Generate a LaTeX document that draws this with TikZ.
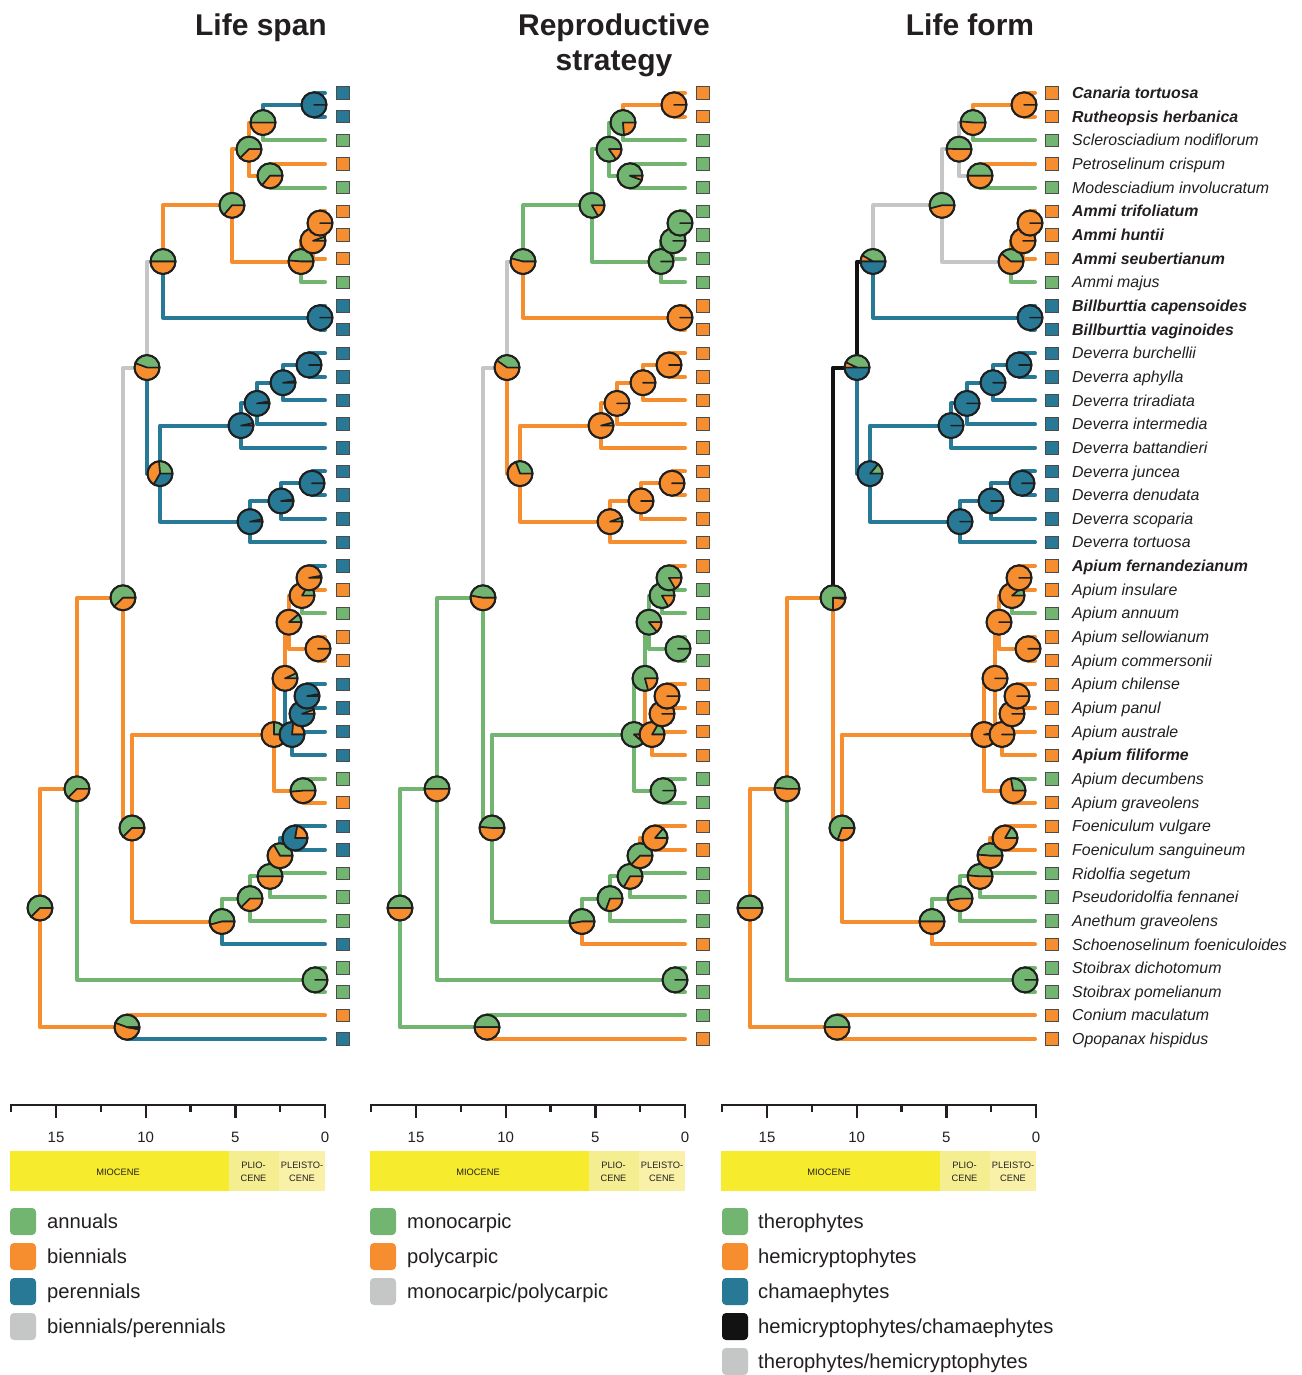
\documentclass[tikz,border=0pt]{standalone}
\usepackage{fontspec}
\setmainfont{Liberation Sans}
\definecolor{cG}{HTML}{71B571}
\definecolor{cO}{HTML}{F68D2E}
\definecolor{cB}{HTML}{277996}
\definecolor{cY}{HTML}{C5C6C6}
\definecolor{cK}{HTML}{121212}
\definecolor{pe}{HTML}{1F1F1F}
\definecolor{txt}{HTML}{231F20}
\definecolor{mio}{HTML}{F6EB2C}
\definecolor{plio}{HTML}{F4EE90}
\definecolor{pleis}{HTML}{FAF1A8}
\newcommand{\pieR}{12.5}
\newcommand{\drawpie}[4]{%
  \begin{scope}[shift={(#1)},yscale=-1]
    \pgfmathsetmacro{\pieA}{#2}%
    \pgfmathsetmacro{\pieB}{#2+#3}%
    \ifdim #2pt>0pt
      \filldraw[slice,fill=cG] (0,0) -- (0:\pieR) arc[start angle=0,end angle=\pieA,radius=\pieR] -- cycle;
    \fi
    \ifdim #3pt>0pt
      \filldraw[slice,fill=cO] (0,0) -- (\pieA:\pieR) arc[start angle=\pieA,end angle=\pieB,radius=\pieR] -- cycle;
    \fi
    \ifdim #4pt>0pt
      \filldraw[slice,fill=cB] (0,0) -- (\pieB:\pieR) arc[start angle=\pieB,end angle=360,radius=\pieR] -- cycle;
    \fi
    \draw[pierim] (0,0) circle[radius=\pieR];
  \end{scope}}
\begin{document}
\begin{tikzpicture}[x=1pt,y=-1pt,
  br/.style={line width=4, line cap=round, line join=round},
  slice/.style={draw=pe, line width=1.6, line join=round},
  pierim/.style={draw=pe, line width=2},
  tipsq/.style={draw=black!70, line width=0.8, minimum size=12.5, inner sep=0, outer sep=0},
  splab/.style={anchor=base west, inner sep=0, text=txt, font=\fontsize{15.9}{18}\selectfont\itshape},
  title/.style={anchor=base, inner sep=0, text=txt, font=\fontsize{30}{36}\selectfont\bfseries, align=center},
  axisline/.style={line width=2.3, draw=txt},
  axnum/.style={anchor=base, inner sep=0, text=txt, font=\fontsize{15}{17}\selectfont},
  epoch/.style={inner sep=0, text=txt, align=center, font=\fontsize{9.3}{12.5}\selectfont},
  legsq/.style={rounded corners=4, minimum width=26, minimum height=27, inner sep=0},
  legtxt/.style={anchor=base west, inner sep=0, text=txt, font=\fontsize{20.2}{22}\selectfont}]
\fill[white] (0,0) rectangle (1301,1375);
\useasboundingbox (0,0) rectangle (1301,1375);

% ---------- coordinates of the three trees ----------
\foreach \pp/\dx in {1/0,2/360,3/710}{
  \foreach \n/\nx/\ny in {root/40/908.0, A/77/788.83, Cn/127/1027.18, St/315/979.88, B/123/597.78,
     C/147/367.56, D/132/828.0, E/163/261.51, F/160/473.62, G/232/205.34, Bb/320/317.68,
     H/249/149.17, K/301/261.51, I/263/122.56, J/270/175.78, Ca/314/104.83, L/313/240.81,
     M/320/223.08, N/241/425.58, O/250/521.66, P/257/403.41, Q/283/382.71, R/309/364.98,
     S/281/500.96, T/312/483.23, U/274/734.51, V/222/921.49, h/285/678.34, i/303/790.68,
     d/289/622.17, g/292/734.51, b/302/595.56, c/318/648.78, a/309/577.83, f/302/713.81,
     e/307/696.08, W/250/898.58, X/270/876.41, Y/280/855.71, Z/295/837.98}{
    \coordinate (p\pp-\n) at ({\nx+\dx},\ny);
  }
  \foreach \i in {1,...,41}{
    \coordinate (p\pp-t\i) at ({325+\dx},{93+(\i-1)*23.65});
  }
}

% ---------- branches ----------
\foreach \ea/\eb/\ca/\cb/\cc in {
 root/A/O/G/O, root/Cn/O/G/O, A/B/O/G/O, A/St/G/G/G, Cn/t40/O/G/O, Cn/t41/B/O/O,
 St/t38/G/G/G, St/t39/G/G/G, B/C/Y/Y/K, B/D/O/G/O, C/E/Y/Y/K, C/F/B/O/B,
 E/G/O/G/Y, E/Bb/B/O/B, G/H/O/G/Y, G/K/O/G/Y, H/I/O/G/Y, H/J/O/G/Y,
 I/Ca/B/O/O, I/t3/G/G/G, Ca/t1/B/O/O, Ca/t2/B/O/O, J/t4/O/G/O, J/t5/G/G/G,
 K/L/O/G/O, K/t9/G/G/G, L/M/O/G/O, L/t8/O/G/O, M/t6/O/G/O, M/t7/O/G/O,
 Bb/t10/B/O/B, Bb/t11/B/O/B, F/N/B/O/B, F/O/B/O/B, N/P/B/O/B, N/t16/B/O/B,
 P/Q/B/O/B, P/t15/B/O/B, Q/R/B/O/B, Q/t14/B/O/B, R/t12/B/O/B, R/t13/B/O/B,
 O/S/B/O/B, O/t20/B/O/B, S/T/B/O/B, S/t19/B/O/B, T/t17/B/O/B, T/t18/B/O/B,
 D/U/O/G/O, D/V/O/G/O, U/h/O/G/O, U/i/O/G/O, h/d/O/G/O, h/g/B/O/O,
 d/b/O/G/O, d/c/O/G/O, b/a/O/G/O, b/t23/G/G/G, a/t21/B/O/O, a/t22/O/G/O,
 c/t24/O/G/O, c/t25/O/G/O, g/f/B/O/O, g/t29/B/O/O, f/e/B/O/O, f/t28/B/O/O,
 e/t26/B/O/O, e/t27/B/O/O, i/t30/G/G/G, i/t31/O/G/O, V/W/G/G/G, V/t37/B/O/O,
 W/X/G/G/G, W/t36/G/G/G, X/Y/G/G/G, X/t35/G/G/G, Y/Z/B/O/O, Y/t34/G/G/G,
 Z/t32/B/O/O, Z/t33/B/O/O}{
  \draw[br, draw=c\ca] (p1-\ea) |- (p1-\eb);
  \draw[br, draw=c\cb] (p2-\ea) |- (p2-\eb);
  \draw[br, draw=c\cc] (p3-\ea) |- (p3-\eb);
}

% ---------- pies ----------
\foreach \n/\vg/\vo/\vb in {root/225/135/0, A/225/135/0, Cn/160/190/10, St/360/0/0, B/225/135/0,
  C/160/200/0, D/225/135/0, E/180/180/0, F/95/145/120, G/230/130/0, Bb/0/0/360, H/225/135/0,
  K/175/185/0, I/180/180/0, J/230/130/0, Ca/0/0/360, L/20/340/0, M/0/360/0, N/0/12/348,
  O/0/12/348, P/0/10/350, Q/0/8/352, R/0/0/360, S/0/8/352, T/0/0/360, U/90/270/0,
  V/195/165/0, h/25/335/0, i/185/175/0, d/40/320/0, g/0/85/275, b/60/300/0, c/0/360/0,
  a/10/350/0, f/0/20/340, e/0/10/350, W/225/135/0, X/180/180/0, Y/120/240/0, Z/0/80/280}{
  \drawpie{p1-\n}{\vg}{\vo}{\vb}
}
\foreach \n/\vg/\vo/\vb in {root/180/180/0, A/180/180/0, Cn/180/180/0, St/360/0/0, B/170/190/0,
  C/145/215/0, D/175/185/0, E/165/195/0, F/110/250/0, G/300/60/0, Bb/0/360/0, H/305/55/0,
  K/360/0/0, I/275/85/0, J/340/20/0, Ca/0/360/0, L/360/0/0, M/360/0/0, N/15/345/0,
  O/20/340/0, P/0/360/0, Q/0/360/0, R/0/360/0, S/0/360/0, T/0/360/0, U/320/40/0,
  V/190/170/0, h/285/75/0, i/360/0/0, d/310/50/0, g/60/300/0, b/300/60/0, c/360/0/0,
  a/300/60/0, f/0/360/0, e/0/360/0, W/250/110/0, X/240/120/0, Y/225/135/0, Z/50/310/0}{
  \drawpie{p2-\n}{\vg}{\vo}{\vb}
}
\foreach \n/\vg/\vo/\vb in {root/180/180/0, A/175/185/0, Cn/180/180/0, St/360/0/0, B/270/85/5,
  C/155/25/180, D/250/110/0, E/150/30/180, F/50/0/310, G/195/165/0, Bb/0/0/360, H/178/182/0,
  K/140/220/0, I/175/185/0, J/180/180/0, Ca/0/360/0, L/0/360/0, M/0/360/0, N/0/0/360,
  O/0/0/360, P/0/0/360, Q/0/0/360, R/0/0/360, S/0/0/360, T/0/0/360, U/10/350/0,
  V/180/180/0, h/0/360/0, i/100/260/0, d/0/360/0, g/0/360/0, b/40/320/0, c/0/360/0,
  a/0/360/0, f/0/360/0, e/0/360/0, W/190/170/0, X/175/185/0, Y/175/185/0, Z/60/300/0}{
  \drawpie{p3-\n}{\vg}{\vo}{\vb}
}

% ---------- tip squares ----------
\foreach \i/\ca/\cb/\cc in {1/B/O/O, 2/B/O/O, 3/G/G/G, 4/O/G/O, 5/G/G/G, 6/O/G/O, 7/O/G/O,
  8/O/G/O, 9/G/G/G, 10/B/O/B, 11/B/O/B, 12/B/O/B, 13/B/O/B, 14/B/O/B, 15/B/O/B, 16/B/O/B,
  17/B/O/B, 18/B/O/B, 19/B/O/B, 20/B/O/B, 21/B/O/O, 22/O/G/O, 23/G/G/G, 24/O/G/O, 25/O/G/O,
  26/B/O/O, 27/B/O/O, 28/B/O/O, 29/B/O/O, 30/G/G/G, 31/O/G/O, 32/B/O/O, 33/B/O/O, 34/G/G/G,
  35/G/G/G, 36/G/G/G, 37/B/O/O, 38/G/G/G, 39/G/G/G, 40/O/G/O, 41/B/O/O}{
  \pgfmathsetmacro{\ty}{93+(\i-1)*23.65}
  \node[tipsq, fill=c\ca] (sqa\i) at (343,\ty) {};
  \node[tipsq, fill=c\cb] (sqb\i) at (703,\ty) {};
  \node[tipsq, fill=c\cc] (sqc\i) at (1052,\ty) {};
}

% ---------- species labels ----------
\foreach \i/\txt in {1/\bfseries Canaria tortuosa, 2/\bfseries Rutheopsis herbanica,
  3/Sclerosciadium nodiflorum, 4/Petroselinum crispum, 5/Modesciadium involucratum,
  6/\bfseries Ammi trifoliatum, 7/\bfseries Ammi huntii, 8/\bfseries Ammi seubertianum,
  9/Ammi majus, 10/\bfseries Billburttia capensoides, 11/\bfseries Billburttia vaginoides,
  12/Deverra burchellii, 13/Deverra aphylla, 14/Deverra triradiata, 15/Deverra intermedia,
  16/Deverra battandieri, 17/Deverra juncea, 18/Deverra denudata, 19/Deverra scoparia,
  20/Deverra tortuosa, 21/\bfseries Apium fernandezianum, 22/Apium insulare, 23/Apium annuum,
  24/Apium sellowianum, 25/Apium commersonii, 26/Apium chilense, 27/Apium panul,
  28/Apium australe, 29/\bfseries Apium filiforme, 30/Apium decumbens, 31/Apium graveolens,
  32/Foeniculum vulgare, 33/Foeniculum sanguineum, 34/Ridolfia segetum,
  35/Pseudoridolfia fennanei, 36/Anethum graveolens, 37/Schoenoselinum foeniculoides,
  38/Stoibrax dichotomum, 39/Stoibrax pomelianum, 40/Conium maculatum, 41/Opopanax hispidus}{
  \pgfmathsetmacro{\ty}{93+(\i-1)*23.65+5.6}
  \node[splab] (lab\i) at (1072,\ty) {\txt};
}

% ---------- titles ----------
\node[title] (ttl1) at (261,35.5) {Life span};
\node[title] (ttl2a) at (614,35.5) {Reproductive};
\node[title] (ttl2b) at (614,71) {strategy};
\node[title] (ttl3) at (970,35.5) {Life form};

% ---------- time axes and epochs ----------
\foreach \pp/\dx in {1/0,2/360,3/711}{
  \draw[axisline] (\dx+10,1105) -- (\dx+326,1105);
  \foreach \k in {1,3,5,7}{
    \draw[axisline] ({\dx+325-\k*2.5*17.93},1104) -- ++(0,8);
  }
  \foreach \k/\lab in {0/0,2/5,4/10,6/15}{
    \draw[axisline] ({\dx+325-\k*2.5*17.93},1104) -- ++(0,14);
    \node[axnum] (ax\pp-\lab) at ({\dx+325-\k*2.5*17.93},1142) {\lab};
  }
  \fill[mio] (\dx+10,1151) rectangle ({\dx+325-5.33*17.93},1191);
  \fill[plio] ({\dx+325-5.33*17.93},1151) rectangle ({\dx+325-2.58*17.93},1191);
  \fill[pleis] ({\dx+325-2.58*17.93},1151) rectangle (\dx+325,1191);
  \node[epoch] (mio\pp) at (\dx+118,1172) {MIOCENE};
  \node[epoch] (plio\pp) at (\dx+253.5,1172) {PLIO-\\CENE};
  \node[epoch] (pleis\pp) at (\dx+302,1172) {PLEISTO-\\CENE};
}

% ---------- legends ----------
\foreach \k/\cl/\tx in {0/cG/annuals, 1/cO/biennials, 2/cB/perennials, 3/cY/{biennials/perennials}}{
  \node[legsq, fill=\cl] (lgA\k) at (23,1221.5+\k*35) {};
  \node[legtxt] (lgtA\k) at (47,1228+\k*35) {\tx};
}
\foreach \k/\cl/\tx in {0/cG/monocarpic, 1/cO/polycarpic, 2/cY/{monocarpic/polycarpic}}{
  \node[legsq, fill=\cl] (lgB\k) at (383,1221.5+\k*35) {};
  \node[legtxt] (lgtB\k) at (407,1228+\k*35) {\tx};
}
\foreach \k/\cl/\tx in {0/cG/therophytes, 1/cO/hemicryptophytes, 2/cB/chamaephytes,
   3/cK/{hemicryptophytes/chamaephytes}, 4/cY/{therophytes/hemicryptophytes}}{
  \node[legsq, fill=\cl] (lgC\k) at (735,1221.5+\k*35) {};
  \node[legtxt] (lgtC\k) at (758,1228+\k*35) {\tx};
}
\end{tikzpicture}
\end{document}
